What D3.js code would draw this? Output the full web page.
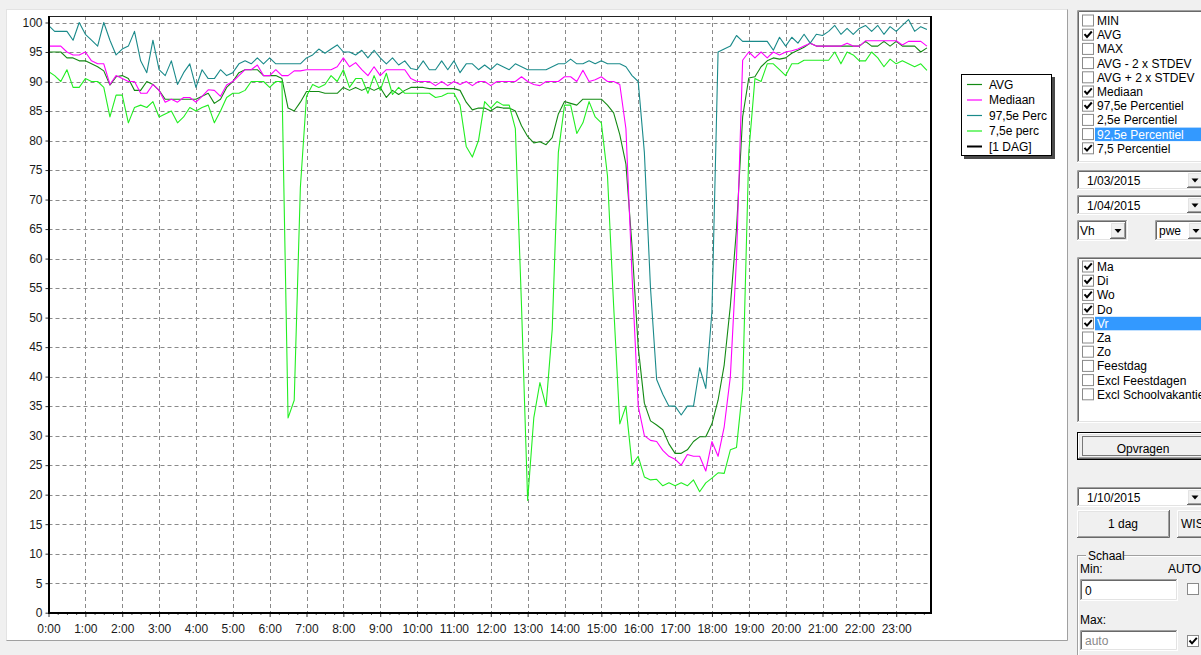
<!DOCTYPE html>
<html><head><meta charset="utf-8">
<script src="https://cdn.jsdelivr.net/npm/d3@7"></script>
<style>
body{margin:0;background:#f0f0f0;overflow:hidden}
svg{display:block;font-family:"Liberation Sans",Arial,sans-serif}
</style></head><body>
<svg id="c" width="1201" height="655"></svg>
<script>
// ---------- DATA ----------
const hourLabels = ["0:00","1:00","2:00","3:00","4:00","5:00","6:00","7:00","8:00","9:00","10:00","11:00",
  "12:00","13:00","14:00","15:00","16:00","17:00","18:00","19:00","20:00","21:00","22:00","23:00"];
const yTicks = [0,5,10,15,20,25,30,35,40,45,50,55,60,65,70,75,80,85,90,95,100];
const times = d3.range(0, 1440, 10); // minutes since 0:00, one sample per 10 minutes

const avg = [95,95,95,94,94,93.5,93.5,93,92.5,91.8,
 89.4,90.8,91,90.5,88.5,88.5,90,89.5,88.5,87,
 87,87,87,87,87,87.5,88,86.3,87,89,
 90,91.5,92,92,92,91,91,91,90.5,85.5,
 85,86.5,88.3,88.3,88.3,88,88,88,89,88.5,
 89,88.5,89,88.5,89,87.3,88.5,87.8,88.5,89,
 89,89,88.8,88.8,88.8,88.8,88.8,88.5,86.5,85.2,
 85.5,85.5,85,85.7,85.5,85.5,85,82.5,80.7,79.6,
 79.8,79.3,80.5,84.5,86.6,86.3,86,87,87,87,
 87,86,84.7,81,76,62,45,35.5,32.5,31.8,
 31,28.6,27,27,27.6,29,29.8,29.8,32,36,
 42,52,65,84,90.6,90.8,92.5,93.5,94,93.8,
 94,94.8,95.3,95.8,96.5,96,96,96,96,96,
 96,96,96,96.8,96,96,96.8,96,96.8,96,
 96,96,95,95.7];

const mediaan = [96,96,96,95,94.5,94.5,95,93.5,93,93,
 89.5,91,90.5,90,90,88,88,89.5,88.5,86.5,
 87,86.5,87.3,87.3,86.5,87.5,88.6,88.5,87.5,89.4,
 90,91,92,92,92.8,91,91,92,91,91,
 91.8,91.8,92,92,92,92,92,92.5,94,92.5,
 93.2,92,91,92.5,91,92,92,92,92,90.5,
 90,90,90,89.3,90,89.3,90,89.5,90,89.3,
 90,90,89.3,90,90,90,90,90.8,90,89.5,
 89.3,90,90,90,90.8,90.8,90,91.9,90,90.3,
 90.8,90,90,89.5,82,57,35,30,29.2,29,
 27.5,26.5,26,25,26.8,26.5,26.5,24,29,26.5,
 31.5,40,60,93.6,95,94,95,94,95,94.5,
 95,95.2,95.5,96,96.5,96,96,96,96,96,
 96.5,96,96,96.9,96.9,96.9,96.9,96.9,96.9,96.2,
 96.8,96.8,96.8,96];

const perc975 = [99.5,98.5,98.5,98.5,97,100,98,97,96,100,
 97,94.5,95.5,96,98.5,93.5,91.5,97,92,91,
 93.5,89.5,91.5,93,89,92,90.5,90.5,92,91,
 91.5,93,93.5,93,94,93,94,93,93,93,
 93,93,94,94.5,95.5,94.8,95.5,96.2,95,95,
 94.5,95.3,94,95.3,94,93,94,92.8,93.5,92.2,
 92,93.5,92,92,93.5,92,93.5,91.5,93,93,
 92,92.8,92,93,92.5,92,93,92.5,92,92,
 92,92,92.5,93,93,93.8,93,93,93.5,93,
 93.5,93,93,93,92.5,91,90,78,55,39.5,
 37,35,35,33.5,35,35,41.5,38,51,95,
 95.5,96,97.8,96.8,96.8,96.8,96.8,96.8,95.3,97.5,
 96,97.5,96.5,98,96.5,98,97.8,98.5,99.5,98,
 99,98,99,99.5,98.5,99.5,98,99.3,98.5,99.5,
 100.5,98.5,99.3,98.8];

const perc75 = [91.7,91,90,92,89,89,90.5,90,90,89,
 84,87.7,87.7,83,85.6,86,85.6,86.6,84,84.5,
 85,83,84,85.6,85,85.6,86,83,85,87.3,
 88,88,88.5,90,90,90,89,90,90,33,
 36,72,87.5,89.5,89,89.5,91,90,92,89,
 90.5,90.5,88,91,88.5,91.4,87.8,89,88,88,
 88,88,88,87.3,87.5,88,88,86,79,77.2,
 80,86.6,85.5,86.6,86,86,82,52,19,33,
 39,35,48,78,86,86,81.2,83,86.6,84,
 83,74,52,32,35,25,26.5,23,22.5,22.6,
 21.5,22,21.5,22,21.5,22.5,20.5,22,22.8,23.7,
 23.6,27.6,28,38,78,90.5,90,93,93,92,
 91,93,93,93.6,93.6,93.6,93.6,93.6,95,93,
 95,94.5,93.5,93.5,95,94,92.5,93.8,93,93.5,
 93,92.5,93,91.9];

const seriesNames = ["AVG","Mediaan","97,5e Perc","7,5e perc","[1 DAG]"];
const seriesColors = ["#138a13","#ff00ff","#1a8a8a","#22ee22","#000000"];
const seriesValues = [avg, mediaan, perc975, perc75];

// side panel texts
const statItems = ["MIN","AVG","MAX","AVG - 2 x STDEV","AVG + 2 x STDEV","Mediaan","97,5e Percentiel","2,5e Percentiel","92,5e Percentiel","7,5 Percentiel"];
const statChecked = [0,1,0,0,0,1,1,0,0,1];
const dayItems = ["Ma","Di","Wo","Do","Vr","Za","Zo","Feestdag","Excl Feestdagen","Excl Schoolvakantie"];
const dayChecked = [1,1,1,1,1,0,0,0,0,0];

// ---------- CHART ----------
const svg = d3.select("#c");

// white chart panel
svg.append("rect").attr("x",6.5).attr("y",9.5).attr("width",1061).attr("height",631)
  .attr("fill","#fff").attr("stroke","#e3e3e3");
svg.append("path").attr("d","M6.5,640.5H1067.5V9.5").attr("fill","none").attr("stroke","#a0a0a0");

const x = d3.scaleLinear().domain([0, 1435]).range([48.5, 930]);
const y = d3.scaleLinear().domain([0, 100]).range([612.7, 22.5]);
const plotTop = 16, plotBottom = 613, plotLeft = 48.5, plotRight = 930;

// grid
const grid = svg.append("g").attr("stroke","#8a8a8a").attr("stroke-dasharray","4,3").attr("stroke-width",1);
grid.selectAll("line.h").data(yTicks.filter(v=>v>0)).join("line")
  .attr("x1",plotLeft).attr("x2",plotRight)
  .attr("y1",d=>Math.round(y(d))+0.5).attr("y2",d=>Math.round(y(d))+0.5);
grid.selectAll("line.v").data(hourLabels.map((h,i)=>i*60).filter(v=>v>0)).join("line")
  .attr("y1",plotTop).attr("y2",plotBottom)
  .attr("x1",d=>Math.round(x(d))+0.5).attr("x2",d=>Math.round(x(d))+0.5);

// axes
const xAxis = d3.axisBottom(x).tickValues(hourLabels.map((h,i)=>i*60))
  .tickFormat((d,i)=>hourLabels[i]).tickSize(4).tickPadding(7);
const gx = svg.append("g").attr("transform",`translate(0,${plotBottom})`).call(xAxis);
gx.select(".domain").remove();
gx.selectAll("text").attr("font-size",12).attr("fill","#1a1a1a").attr("font-family",'"Liberation Sans",Arial,sans-serif');
gx.selectAll("line").attr("stroke","#333");
// minor ticks every 15 minutes
const minorAxis = d3.axisBottom(x).tickValues(d3.range(0,1436,15).filter(v=>v%60!==0)).tickSize(2).tickFormat("");
const gm = svg.append("g").attr("transform",`translate(0,${plotBottom})`).call(minorAxis);
gm.select(".domain").remove(); gm.selectAll("line").attr("stroke","#555");

const yAxis = d3.axisLeft(y).tickValues(yTicks).tickSize(3).tickPadding(3);
const gy = svg.append("g").attr("transform",`translate(${plotLeft},0)`).call(yAxis);
gy.select(".domain").remove();
gy.selectAll("text").attr("font-size",12).attr("fill","#1a1a1a").attr("font-family",'"Liberation Sans",Arial,sans-serif');
gy.selectAll("line").attr("stroke","#333");

// series lines
const line = d3.line().x((d,i)=>x(times[i])).y(d=>y(d));
seriesValues.forEach((vals,k)=>{
  svg.append("path").datum(vals).attr("d",line).attr("fill","none")
    .attr("stroke",seriesColors[k]).attr("stroke-width",1.1).attr("stroke-linejoin","round");
});

// frame
svg.append("line").attr("x1",plotLeft).attr("x2",plotRight+1).attr("y1",plotTop+0.5).attr("y2",plotTop+0.5).attr("stroke","#222");
svg.append("line").attr("x1",49).attr("x2",49).attr("y1",plotTop).attr("y2",plotBottom+1).attr("stroke","#000").attr("stroke-width",2);
svg.append("line").attr("x1",48).attr("x2",plotRight+2).attr("y1",613).attr("y2",613).attr("stroke","#000").attr("stroke-width",2);
svg.append("line").attr("x1",931).attr("x2",931).attr("y1",plotTop).attr("y2",plotBottom+1).attr("stroke","#000").attr("stroke-width",2);

// legend
const lg = svg.append("g");
lg.append("rect").attr("x",964).attr("y",77).attr("width",91).attr("height",82).attr("fill","#4a4a4a");
lg.append("rect").attr("x",961.5).attr("y",74.5).attr("width",90).attr("height",81).attr("fill","#fff").attr("stroke","#000");
seriesNames.forEach((n,i)=>{
  const yy = 84 + i*15.5;
  lg.append("line").attr("x1",967).attr("x2",982).attr("y1",yy+0.5).attr("y2",yy+0.5)
    .attr("stroke",seriesColors[i]).attr("stroke-width", i===4?2:1.2);
  lg.append("text").attr("x",989).attr("y",yy+4.5).attr("font-size",12).attr("fill","#000").text(n);
});

// ---------- SIDE PANEL (UI) ----------
const ui = svg.append("g").attr("font-size",12).attr("fill","#000");
function bevel(x0,y0,w,h,oTL,oBR,iTL,iBR,fill){
  const g = ui.append("g");
  g.append("rect").attr("x",x0).attr("y",y0).attr("width",w).attr("height",h).attr("fill",fill);
  g.append("path").attr("d",`M${x0+.5},${y0+h-1}V${y0+.5}H${x0+w-1}`).attr("stroke",oTL).attr("fill","none");
  g.append("path").attr("d",`M${x0},${y0+h-.5}H${x0+w-.5}V${y0}`).attr("stroke",oBR).attr("fill","none");
  g.append("path").attr("d",`M${x0+1.5},${y0+h-2}V${y0+1.5}H${x0+w-2}`).attr("stroke",iTL).attr("fill","none");
  g.append("path").attr("d",`M${x0+1},${y0+h-1.5}H${x0+w-1.5}V${y0+1}`).attr("stroke",iBR).attr("fill","none");
  return g;
}
const sunken=(x0,y0,w,h,fill="#fff")=>bevel(x0,y0,w,h,"#a0a0a0","#ffffff","#696969","#e3e3e3",fill);
const raised=(x0,y0,w,h)=>bevel(x0,y0,w,h,"#ffffff","#696969","#e3e3e3","#a0a0a0","#f0f0f0");
function checkbox(x0,y0,checked){
  ui.append("rect").attr("x",x0+.5).attr("y",y0+.5).attr("width",11).attr("height",11).attr("fill","#fff").attr("stroke","#8a8a8a");
  if(checked) ui.append("path").attr("d",`M${x0+2.5},${y0+5.5}l2.5,2.8l4.8,-5.5`).attr("stroke","#000").attr("stroke-width",2).attr("fill","none");
}
function arrowBtn(x0,y0,w,h){
  raised(x0,y0,w,h);
  const cx=x0+w/2, cy=y0+h/2;
  ui.append("path").attr("d",`M${cx-3.5},${cy-1.5}h7l-3.5,4z`).attr("fill","#000");
}
function combo(x0,y0,w,h,text,tx,btnX){
  sunken(x0,y0,w,h);
  ui.append("text").attr("x",tx).attr("y",y0+15).text(text);
  arrowBtn(btnX,y0+2,16,h-4);
}
function listbox(x0,y0,w,h,items,checked,hiIndex,base){
  sunken(x0,y0,w,h);
  items.forEach((t,i)=>{
    const by = base + i*14.2;
    if(i===hiIndex) ui.append("rect").attr("x",1095).attr("y",by-11).attr("width",120).attr("height",13.5).attr("fill","#3399ff");
    checkbox(1082, by-10.5, checked[i]);
    ui.append("text").attr("x",1097).attr("y",by).attr("fill",i===hiIndex?"#fff":"#000").text(t);
  });
}
listbox(1077,10,140,153,statItems,statChecked,8,25);
combo(1077,170,140,20,"1/03/2015",1087,1187);
combo(1077,195,140,20,"1/04/2015",1087,1187);
combo(1077,220,51,21,"Vh",1080,1110);
combo(1155,220,60,21,"pwe",1159,1188);
listbox(1077,257,140,166,dayItems,dayChecked,4,271);

// Opvragen button (default button)
ui.append("rect").attr("x",1077.5).attr("y",432.5).attr("width",140).attr("height",27).attr("fill","#f0f0f0").attr("stroke","#000");
bevel(1078,433,139,26,"#ffffff","#696969","#e3e3e3","#a0a0a0","#f0f0f0");
ui.append("rect").attr("x",1082.5).attr("y",436.5).attr("width",130).attr("height",19).attr("fill","none")
  .attr("stroke","#000").attr("stroke-dasharray","1,1");
ui.append("text").attr("x",1143).attr("y",453).attr("text-anchor","middle").text("Opvragen");

combo(1077,487,140,20,"1/10/2015",1087,1187);
raised(1077,510,93,28);
ui.append("text").attr("x",1123).attr("y",528).attr("text-anchor","middle").text("1 dag");
raised(1177,510,45,28);
ui.append("text").attr("x",1181).attr("y",528).text("WIS");

// Schaal group box
ui.append("rect").attr("x",1077.5).attr("y",555.5).attr("width",150).attr("height",120).attr("fill","none").attr("stroke","#a0a0a0");
ui.append("rect").attr("x",1078.5).attr("y",556.5).attr("width",150).attr("height",120).attr("fill","none").attr("stroke","#fff");
ui.append("rect").attr("x",1086).attr("y",550).attr("width",38).attr("height",12).attr("fill","#f0f0f0");
ui.append("text").attr("x",1088).attr("y",560).text("Schaal");
ui.append("text").attr("x",1080).attr("y",573).text("Min:");
ui.append("text").attr("x",1168).attr("y",573).text("AUTO");
sunken(1080,579,98,22);
ui.append("text").attr("x",1085).attr("y",595).text("0");
checkbox(1187,583,0);
ui.append("text").attr("x",1080).attr("y",624).text("Max:");
sunken(1080,630,98,21);
ui.append("text").attr("x",1085).attr("y",645).attr("fill","#8a8a8a").text("auto");
checkbox(1187,635,1);
</script>
</body></html>
